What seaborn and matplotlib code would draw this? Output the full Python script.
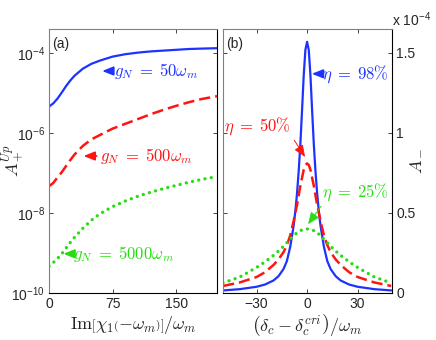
import numpy as np
import pandas as pd
import seaborn as sns
import matplotlib.pyplot as plt
from matplotlib.ticker import FixedLocator, NullLocator

# ---- panel (a) data (log10 of A_+^Up) ----
im_chi = [0, 5, 10, 15, 20, 25, 30, 40, 50, 60, 75, 90, 105, 120, 135, 150, 165, 180, 198]
log_a_50 = [-5.34, -5.26, -5.14, -4.99, -4.83, -4.69, -4.57, -4.39, -4.27, -4.19,
            -4.09, -4.03, -3.99, -3.96, -3.94, -3.92, -3.90, -3.89, -3.88]
log_a_500 = [-7.33, -7.25, -7.11, -6.98, -6.83, -6.68, -6.54, -6.32, -6.16, -6.05,
             -5.89, -5.77, -5.65, -5.53, -5.42, -5.32, -5.23, -5.15, -5.08]
log_a_5000 = [-9.33, -9.24, -9.14, -9.02, -8.88, -8.74, -8.61, -8.38, -8.18, -8.02,
              -7.84, -7.70, -7.58, -7.48, -7.39, -7.31, -7.23, -7.16, -7.09]

# ---- panel (b) data: A_- in units of 1e-4 ----
detuning = [-50, -40, -30, -25, -20, -17, -14, -12, -10, -8, -7, -6, -5, -4, -3, -2, -1, 0,
            1, 2, 3, 4, 5, 6, 7, 8, 10, 12, 14, 17, 20, 25, 30, 40, 50]
a_eta98 = [0.016, 0.024, 0.039, 0.053, 0.078, 0.105, 0.15, 0.20, 0.29, 0.42, 0.51, 0.62, 0.76,
           0.93, 1.14, 1.36, 1.52, 1.57, 1.52, 1.36, 1.14, 0.93, 0.76, 0.62, 0.51, 0.42,
           0.29, 0.20, 0.15, 0.105, 0.078, 0.053, 0.039, 0.024, 0.016]
a_eta50 = [0.044, 0.066, 0.10, 0.13, 0.175, 0.21, 0.255, 0.30, 0.36, 0.45, 0.50, 0.55, 0.61,
           0.67, 0.72, 0.77, 0.80, 0.81, 0.80, 0.77, 0.72, 0.67, 0.61, 0.55, 0.50, 0.45,
           0.36, 0.30, 0.255, 0.21, 0.175, 0.13, 0.10, 0.066, 0.044]
a_eta25 = [0.063, 0.10, 0.16, 0.195, 0.235, 0.262, 0.292, 0.315, 0.337, 0.358, 0.368, 0.376,
           0.383, 0.39, 0.394, 0.398, 0.40, 0.40, 0.40, 0.398, 0.394, 0.39, 0.383, 0.376,
           0.368, 0.358, 0.337, 0.315, 0.292, 0.262, 0.235, 0.195, 0.16, 0.10, 0.063]

blue = '#1e32ff'
red = '#ff1414'
green = '#28dc14'

sns.set_style('white')
plt.rcParams['font.family'] = ['Liberation Sans', 'DejaVu Sans']
plt.rcParams['mathtext.fontset'] = 'cm'
plt.rcParams['xtick.direction'] = 'in'
plt.rcParams['ytick.direction'] = 'in'

fig = plt.figure(figsize=(4.36, 3.4), dpi=100)
ax1 = fig.add_axes([49 / 436, 1 - 293 / 340, 168 / 436, 264 / 340])
ax2 = fig.add_axes([223 / 436, 1 - 293 / 340, 169 / 436, 264 / 340])

dfa = pd.DataFrame({'x': im_chi,
                    'g50': 10 ** np.array(log_a_50),
                    'g500': 10 ** np.array(log_a_500),
                    'g5000': 10 ** np.array(log_a_5000)})
dfb = pd.DataFrame({'x': detuning, 'e98': a_eta98, 'e50': a_eta50, 'e25': a_eta25})

# panel (a)
sns.lineplot(data=dfa, x='x', y='g50', ax=ax1, color=blue, lw=1.6)
sns.lineplot(data=dfa, x='x', y='g500', ax=ax1, color=red, lw=1.8, linestyle=(0, (4.5, 2)))
sns.lineplot(data=dfa, x='x', y='g5000', ax=ax1, color=green, lw=2.4,
             linestyle=(0, (0.01, 1.9)), dash_capstyle='round')
ax1.set_yscale('log')
ax1.set_xlim(0, 198)
ax1.set_ylim(1e-10, 10 ** -3.4)
ax1.xaxis.set_major_locator(FixedLocator([0, 75, 150]))
ax1.yaxis.set_major_locator(FixedLocator([1e-10, 1e-8, 1e-6, 1e-4]))
ax1.yaxis.set_minor_locator(NullLocator())
ax1.set_xlabel(r'$\mathrm{Im}\left[\chi_1\left(-\omega_m\right)\right]/\omega_m$', fontsize=13, labelpad=2)
ax1.set_ylabel(r'$A_+^{Up}$', fontsize=13)
ax1.yaxis.set_label_coords(-0.135, 0.5)
ax1.text(0.02, 0.97, '(a)', transform=ax1.transAxes, ha='left', va='top', fontsize=10)

arrow_a = dict(arrowstyle='-|>,head_length=0.55,head_width=0.22', lw=1.3, shrinkA=0, shrinkB=0)
ax1.annotate(r'$g_N\;=\;50\omega_m$', xy=(62.6, 10 ** -4.45), xytext=(76.5, 10 ** -4.45),
             color=blue, fontsize=12, ha='left', va='center',
             arrowprops=dict(color=blue, **arrow_a))
ax1.annotate(r'$g_N\;=\;500\omega_m$', xy=(40.7, 10 ** -6.575), xytext=(60, 10 ** -6.575),
             color=red, fontsize=12, ha='left', va='center',
             arrowprops=dict(color=red, **arrow_a))
ax1.annotate(r'$g_N\;=\;5000\omega_m$', xy=(16.9, 10 ** -9.02), xytext=(28.5, 10 ** -9.02),
             color=green, fontsize=12, ha='left', va='center',
             arrowprops=dict(color=green, **arrow_a))

# panel (b)
sns.lineplot(data=dfb, x='x', y='e98', ax=ax2, color=blue, lw=1.6)
sns.lineplot(data=dfb, x='x', y='e50', ax=ax2, color=red, lw=1.8, linestyle=(0, (4.5, 2)))
sns.lineplot(data=dfb, x='x', y='e25', ax=ax2, color=green, lw=2.4,
             linestyle=(0, (0.01, 1.9)), dash_capstyle='round')
ax2.set_xlim(-50, 50.5)
ax2.set_ylim(0, 1.65)
ax2.xaxis.set_major_locator(FixedLocator([-30, 0, 30]))
ax2.yaxis.set_major_locator(FixedLocator([0, 0.5, 1, 1.5]))
ax2.set_yticklabels(['0', '0.5', '1', '1.5'])
ax2.set_xticklabels(['\u221230', '0', '30'])
ax2.yaxis.set_label_position('right')
ax2.set_xlabel(r'$\left(\delta_c-\delta_c^{cri}\right)/\omega_m$', fontsize=13, labelpad=2)
ax2.set_ylabel(r'$A_-$', fontsize=13)
ax2.yaxis.set_label_coords(1.08, 0.5)
ax2.text(0.02, 0.97, '(b)', transform=ax2.transAxes, ha='left', va='top', fontsize=10)
fig.text(392 / 436, 1 - 20 / 340, r'x $\mathdefault{10^{-4}}$', ha='left', va='center', fontsize=10)

ax2.annotate(r'$\eta\;=\;98\%$', xy=(2.8, 1.37), xytext=(8.9, 1.37),
             color=blue, fontsize=12, ha='left', va='center',
             arrowprops=dict(color=blue, **arrow_a))
thin = dict(arrowstyle='-|>,head_length=0.6,head_width=0.25', lw=0.7, shrinkA=0, shrinkB=0)
ax2.annotate(r'$\eta\;=\;50\%$', xy=(-1.2, 0.85), xytext=(-29.4, 1.04),
             color=red, fontsize=12, ha='center', va='center',
             arrowprops=dict(color=red, relpos=(1.0, 0.1), **thin))
ax2.annotate(r'$\eta\;=\;25\%$', xy=(0.6, 0.43), xytext=(28.5, 0.63),
             color=green, fontsize=12, ha='center', va='center',
             arrowprops=dict(color=green, relpos=(0.05, 0.1), **thin))

for ax in (ax1, ax2):
    ax.tick_params(which='both', top=True, bottom=True, left=True, right=True,
                   length=3, width=0.6, labelsize=10, pad=3)
    for side in ('top', 'left'):
        ax.spines[side].set_color('#808080')
    for side in ('bottom', 'right'):
        ax.spines[side].set_color('black')
    for s in ax.spines.values():
        s.set_linewidth(0.8)
ax2.tick_params(labelleft=False, labelright=True)

fig.savefig('out.png', dpi=100)
